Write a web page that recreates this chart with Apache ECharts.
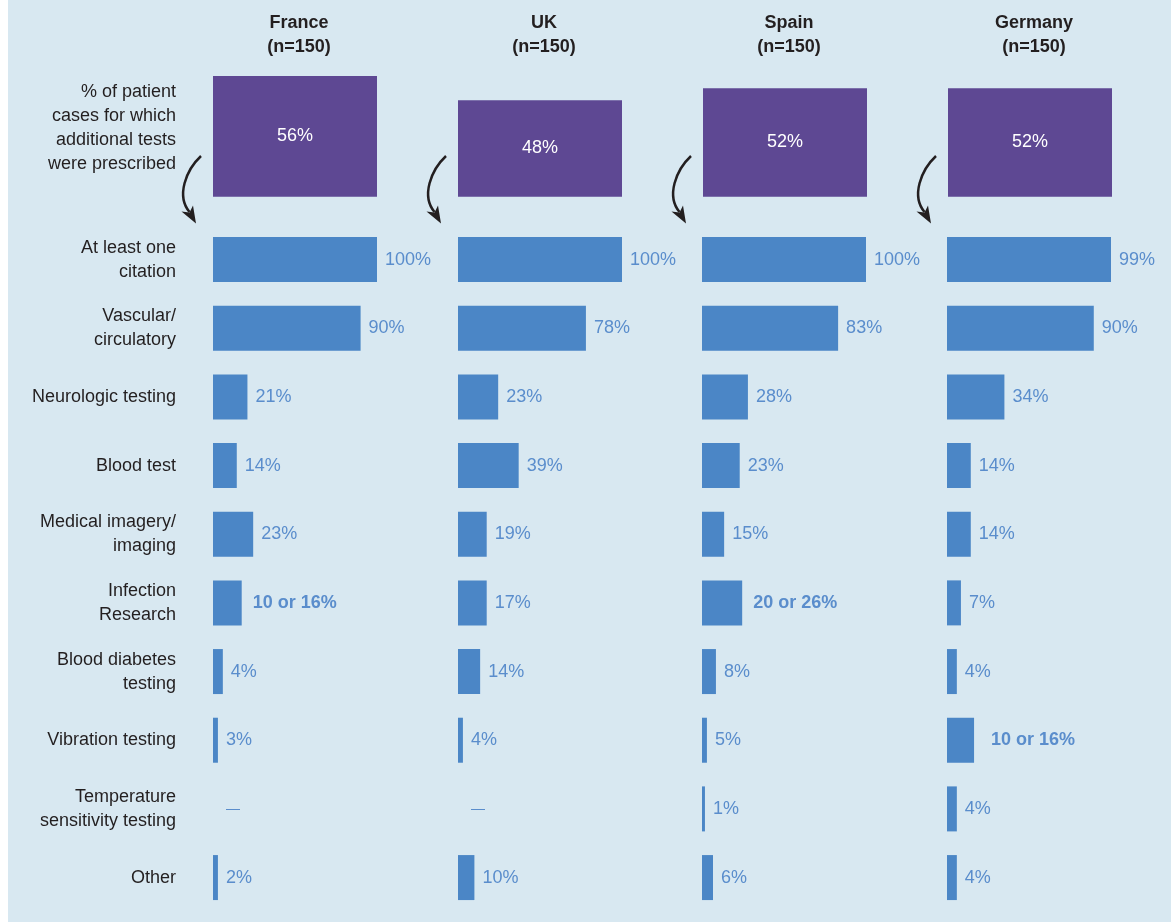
<!DOCTYPE html>
<html><head><meta charset="utf-8">
<script src="https://cdn.jsdelivr.net/npm/echarts@6/dist/echarts.min.js"></script>
<style>
html,body{margin:0;padding:0;background:#fff}
#c{position:absolute;left:0;top:0;width:1171px;height:922px;background:linear-gradient(to right,#ffffff 0,#ffffff 8px,#d8e8f1 8px)}
</style>
</head><body><div id="c"></div>
<script>
const countries = ['France', 'UK', 'Spain', 'Germany'];
const sampleSizes = ['n=150', 'n=150', 'n=150', 'n=150'];
const prescribedPct = [56, 48, 52, 52];
const prescribedLabel = '% of patient\ncases for which\nadditional tests\nwere prescribed';
const categories = ['At least one\ncitation', 'Vascular/\ncirculatory', 'Neurologic testing', 'Blood test',
  'Medical imagery/\nimaging', 'Infection\nResearch', 'Blood diabetes\ntesting', 'Vibration testing',
  'Temperature\nsensitivity testing', 'Other'];
// bar lengths as drawn in the picture
const franceBars  = [100, 90, 21, 14.5, 24.5, 17.5, 6, 3, 0, 3];
const ukBars      = [100, 78, 24.5, 37, 17.5, 17.5, 13.5, 3, 0, 10];
const spainBars   = [100, 83, 28, 23, 13.5, 24.5, 8.5, 3, 1.8, 6.7];
const germanyBars = [100, 89.5, 35, 14.5, 14.5, 8.5, 6, 16.5, 6, 6];
// printed value labels
const franceLabels  = ['100%', '90%', '21%', '14%', '23%', '10 or 16%', '4%', '3%', '—', '2%'];
const ukLabels      = ['100%', '78%', '23%', '39%', '19%', '17%', '14%', '4%', '—', '10%'];
const spainLabels   = ['100%', '83%', '28%', '23%', '15%', '20 or 26%', '8%', '5%', '1%', '6%'];
const germanyLabels = ['99%', '90%', '34%', '14%', '14%', '7%', '4%', '10 or 16%', '4%', '4%'];

const allBars = [franceBars, ukBars, spainBars, germanyBars];
const allLabels = [franceLabels, ukLabels, spainLabels, germanyLabels];

const FONT = '"Liberation Sans", Arial, Helvetica, sans-serif';
const DARK = '#231f20';
const BAR = '#4b86c6';
const LBL = '#5a8dcc';
const PURPLE = '#5e4893';

const chart = echarts.init(document.getElementById('c'), null, {renderer: 'canvas'});

const colLefts = [213, 458, 702, 947];
const grids = [{left: 172.5, width: 980, top: 64, height: 132.7}];
const xAxes = [{
  type: 'category', gridIndex: 0, data: countries, position: 'top',
  axisLine: {show: false}, axisTick: {show: false},
  axisLabel: {
    margin: 5, padding: [0, 0, 0, 8],
    formatter: (v, i) => '{h|' + v + '}\n{h|(' + sampleSizes[i] + ')}',
    rich: {h: {fontFamily: FONT, fontWeight: 'bold', fontSize: 18, lineHeight: 24, color: DARK}}
  }
}];
const yAxes = [{type: 'value', gridIndex: 0, min: 16, max: 60, show: false}];
const series = [{
  type: 'bar', xAxisIndex: 0, yAxisIndex: 0, barWidth: 164, data: prescribedPct,
  itemStyle: {color: PURPLE},
  label: {show: true, position: 'inside', formatter: '{c}%', color: '#ffffff', fontSize: 18, fontFamily: FONT},
  silent: true
}];

allBars.forEach((vals, k) => {
  const gi = k + 1;
  grids.push({left: colLefts[k], width: 164, top: 225.2, height: 686.7});
  xAxes.push({type: 'value', gridIndex: gi, min: 0, max: 100, show: false});
  yAxes.push({
    type: 'category', gridIndex: gi, data: categories, inverse: true,
    axisLine: {show: false}, axisTick: {show: false}, splitLine: {show: false},
    axisLabel: k === 0 ? {show: true, margin: 37, fontSize: 18, lineHeight: 24, color: DARK, fontFamily: FONT, align: 'right'} : {show: false}
  });
  const labs = allLabels[k];
  series.push({
    type: 'bar', xAxisIndex: gi, yAxisIndex: gi, barWidth: 45, silent: true,
    itemStyle: {color: BAR},
    label: {show: true, position: 'right', distance: 8, color: LBL, fontSize: 18, fontFamily: FONT},
    data: vals.map((v, i) => {
      const t = labs[i];
      const lab = {formatter: t};
      if (t.indexOf(' or ') >= 0) { lab.fontWeight = 'bold'; lab.distance = (k === 3 ? 17 : 11); }
      if (t === '—') { lab.distance = 13; lab.fontSize = 14; }
      return {value: v, label: lab};
    })
  });
});

chart.setOption({
  backgroundColor: 'transparent',
  animation: false,
  grid: grids, xAxis: xAxes, yAxis: yAxes, series: series
});

const graphics = [{
  type: 'text', x: 176, y: 80,
  style: {text: prescribedLabel, font: '18px ' + FONT, fill: DARK, align: 'right', verticalAlign: 'top', lineHeight: 24}
}];
countries.forEach(c => {
  const L = chart.convertToPixel({xAxisIndex: 0}, c) - 82;
  graphics.push({
    type: 'bezierCurve', silent: true,
    shape: {x1: L - 12, y1: 156, cpx1: L - 27, cpy1: 170, cpx2: L - 37, cpy2: 196, x2: L - 23.5, y2: 212},
    style: {stroke: DARK, lineWidth: 2.5, fill: null}
  });
  graphics.push({
    type: 'polygon', silent: true,
    shape: {points: [[L - 17, 223.5], [L - 31.5, 211.5], [L - 23.5, 212.5], [L - 20, 205.5]]},
    style: {fill: DARK}
  });
});
chart.setOption({graphic: graphics});
</script>
</body></html>
